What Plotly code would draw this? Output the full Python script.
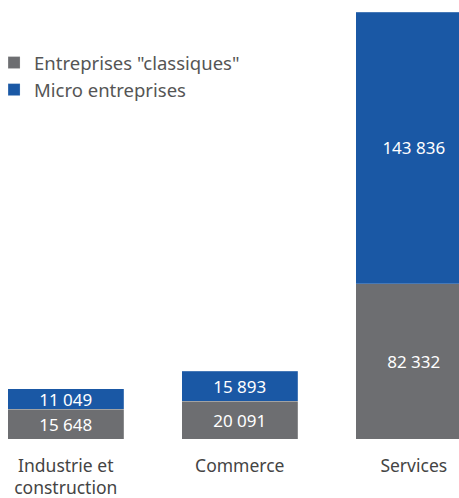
import plotly.graph_objects as go

categories = ["Industrie et<br>construction", "Commerce", "Services"]
classiques = [15648, 20091, 82332]
micro = [11049, 15893, 143836]
series_names = ['Entreprises "classiques"', "Micro entreprises"]

GRAY = "#6d6e71"
BLUE = "#1a58a5"
FONT = "Noto Sans"

def fmt(v):
    return f"{v:,}".replace(",", " ")

fig = go.Figure()
for vals, name, color in [(classiques, series_names[0], GRAY), (micro, series_names[1], BLUE)]:
    fig.add_trace(go.Bar(
        x=categories, y=vals, name=name,
        marker=dict(color=color, line=dict(color="rgba(255,255,255,0.4)", width=0.5)),
        text=[fmt(v) for v in vals], textposition="inside",
        insidetextanchor="middle", textangle=0, constraintext="none",
        textfont=dict(color="white", size=17, family=FONT),
    ))

fig.update_layout(
    barmode="stack",
    bargap=0.333,
    width=459, height=498,
    margin=dict(l=0, r=0, t=12, b=59, autoexpand=False),
    paper_bgcolor="white", plot_bgcolor="white",
    font=dict(family=FONT, color="#444"),
    showlegend=True,
    legend=dict(
        x=-0.013, y=0.925, xanchor="left", yanchor="top",
        traceorder="normal",
        font=dict(size=18.5, color="#555", family=FONT),
        bgcolor="rgba(0,0,0,0)", itemclick=False,
    ),
    xaxis=dict(
        range=[-0.378, 2.260], showgrid=False, showline=False, zeroline=False,
        ticks="", ticklabelstandoff=14,
        tickfont=dict(size=17.5, color="#444", family=FONT),
    ),
    yaxis=dict(
        range=[0, classiques[2] + micro[2]], visible=False,
    ),
)

fig.write_html("out.html", config={"displayModeBar": False},
               post_script="document.body.style.margin='0';")
